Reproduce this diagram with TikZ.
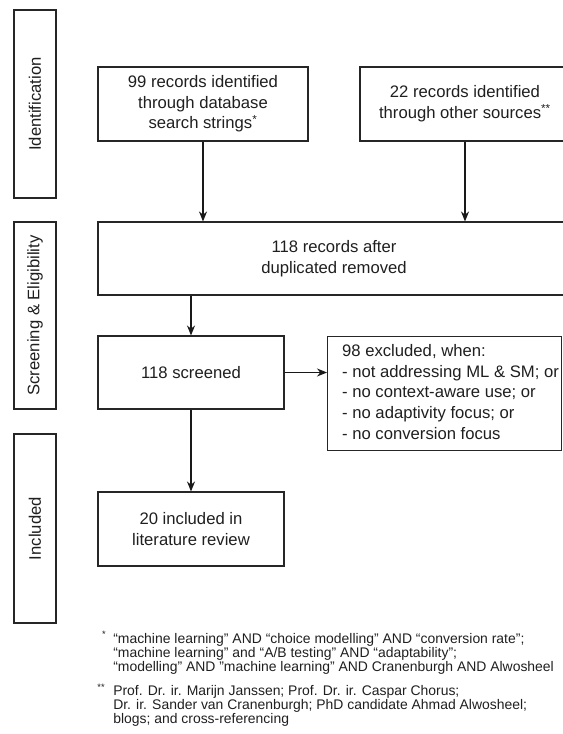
\documentclass[tikz,border=0pt]{standalone}
\usepackage{fontspec}
\setmainfont{Liberation Sans}
\usetikzlibrary{arrows.meta}
\begin{document}
\begin{tikzpicture}[x=0.75pt,y=-0.75pt,
  box/.style={draw=black!85, line width=0.8pt, text=black!88, font=\fontsize{12.5}{15.5}\selectfont, align=center, inner sep=0pt},
  side/.style={box, rotate=90, minimum height=31.5pt},
  arr/.style={-{Stealth[length=7.5pt,width=6pt]}, line width=0.8pt, draw=black!90},
  note/.style={text=black!88, font=\fontsize{10.45}{10.3}\selectfont, align=left, inner sep=0pt, anchor=west},
  star/.style={text=black!88, font=\fontsize{7}{8}\selectfont, inner sep=0pt}
]
\useasboundingbox (0,0) rectangle (562,734);

% phase labels
\node[side, minimum width=141pt] (id) at (35,104) {Identification};
\node[side, minimum width=140.25pt] (se) at (35,315.5) {Screening \& Eligibility};
\node[side, minimum width=141.75pt] (inc) at (35,528.5) {Included};

% boxes
\node[box, minimum width=157.5pt, minimum height=55.5pt] (db) at (203,104)
  {99 records identified\\through database\\search strings\textsuperscript{*}};
\node[box, minimum width=157.5pt, minimum height=55.5pt] (other) at (465,104)
  {22 records identified\\through other sources\textsuperscript{**}};
\node[box, minimum width=354pt, minimum height=54.75pt] (dup) at (334,258.5)
  {118 records after\\duplicated removed};
\node[box, minimum width=139.5pt, minimum height=54.75pt] (scr) at (191,372.5)
  {118 screened};
\node[box, minimum width=175.5pt, minimum height=85.5pt, anchor=north west] (exc) at (327,336)
  {\hspace*{9pt}\begin{tabular}{@{}l@{}}98 excluded, when:\\- not addressing ML \& SM; or\\- no context-aware use; or\\- no adaptivity focus; or\\- no conversion focus\end{tabular}\hspace*{\fill}};
\node[box, minimum width=139.5pt, minimum height=55.5pt] (incl) at (191,529)
  {20 included in\\literature review};

% connectors
\draw[arr] (db.south) -- (db.south |- dup.north);
\draw[arr] (other.south) -- (other.south |- dup.north);
\draw[arr] (scr.north |- dup.south) -- (scr.north);
\draw[arr] (scr.east) -- (scr.east -| exc.west);
\draw[arr] (scr.south) -- (incl.north);

% footnotes
\node[star] (s1) at (104,634) {*};
\node[note] (n1) at (113,654)
  {“machine learning” AND “choice modelling” AND “conversion rate”;\\
   “machine learning” and “A/B testing” AND “adaptability”;\\
   “modelling” AND "machine learning" AND Cranenburgh AND Alwosheel};
\node[star] (s2) at (101,687) {**};
\node[note] (n2) at (113,706)
  {Prof. Dr. ir. Marijn Janssen; Prof. Dr. ir. Caspar Chorus;\\
   Dr. ir. Sander van Cranenburgh; PhD candidate Ahmad Alwosheel;\\
   blogs; and cross-referencing};
\end{tikzpicture}
\end{document}
